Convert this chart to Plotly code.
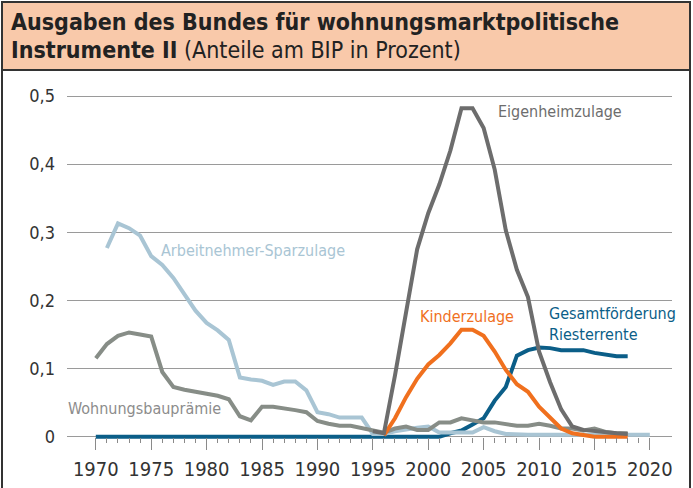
import plotly.graph_objects as go

# ---------------- data ----------------
years_arb = list(range(1971, 2021))
arbeitnehmer = [0.277, 0.313, 0.306, 0.295, 0.265, 0.252, 0.233, 0.208, 0.185, 0.167,
                0.156, 0.142, 0.087, 0.084, 0.082, 0.076, 0.081, 0.081, 0.068, 0.036,
                0.033, 0.028, 0.028, 0.028, 0.004, 0.004, 0.008, 0.011, 0.013, 0.015,
                0.006, 0.006, 0.006, 0.006, 0.014, 0.008, 0.004, 0.003, 0.003, 0.003,
                0.003, 0.003, 0.003, 0.003, 0.003, 0.003, 0.003, 0.003, 0.003, 0.003]

years_wbp = list(range(1970, 2019))
wohnungsbau = [0.115, 0.136, 0.148, 0.153, 0.150, 0.147, 0.095, 0.073, 0.069, 0.066,
               0.063, 0.060, 0.055, 0.030, 0.024, 0.044, 0.044, 0.042, 0.039, 0.036,
               0.023, 0.019, 0.016, 0.016, 0.013, 0.010, 0.006, 0.012, 0.015, 0.010,
               0.010, 0.021, 0.021, 0.027, 0.024, 0.021, 0.021, 0.019, 0.016, 0.016,
               0.019, 0.016, 0.012, 0.012, 0.009, 0.012, 0.007, 0.005, 0.005]

years_eig = list(range(1995, 2019))
eigenheim = [0.008, 0.005, 0.090, 0.180, 0.275, 0.328, 0.370, 0.420, 0.482, 0.482,
             0.453, 0.392, 0.303, 0.245, 0.205, 0.125, 0.080, 0.040, 0.015, 0.010,
             0.008, 0.006, 0.005, 0.004]

years_kind = list(range(1996, 2019))
kinder = [0.002, 0.027, 0.058, 0.085, 0.106, 0.120, 0.137, 0.157, 0.157, 0.148,
          0.125, 0.098, 0.077, 0.066, 0.044, 0.027, 0.012, 0.005, 0.002, 0.0,
          0.0, 0.0, 0.0]

years_ries = list(range(1970, 2019))
riester = [0.0] * 32 + [0.005, 0.009, 0.018, 0.027, 0.053, 0.073, 0.119, 0.127,
                        0.131, 0.130, 0.127, 0.127, 0.127, 0.123, 0.120, 0.118, 0.118]

x_ticks = list(range(1970, 2021, 5))
x_minor = list(range(1970, 2021))
y_ticks = [0, 0.1, 0.2, 0.3, 0.4, 0.5]
y_labels = ["0", "0,1", "0,2", "0,3", "0,4", "0,5"]

# ---------------- styling ----------------
FONT = "Liberation Sans Narrow, DejaVu Sans Condensed, Arial Narrow, sans-serif"
C_ARB = "#a9c5d4"
C_WBP = "#878d87"
C_EIG = "#6d6d6d"
C_KIN = "#f0701e"
C_RIE = "#0b5e88"

W, H = 693, 488
L, R, T, B = 67, 21, 80, 43
PW, PH = W - L - R, H - T - B


def px(x):
    return (x - L) / PW


def py(y):
    return 1 - (y - T) / PH


fig = go.Figure()
lw = 4
fig.add_trace(go.Scatter(x=years_ries, y=riester, mode="lines",
                         line=dict(color=C_RIE, width=lw)))
fig.add_trace(go.Scatter(x=years_arb, y=arbeitnehmer, mode="lines",
                         line=dict(color=C_ARB, width=lw)))
fig.add_trace(go.Scatter(x=years_wbp, y=wohnungsbau, mode="lines",
                         line=dict(color=C_WBP, width=lw)))
fig.add_trace(go.Scatter(x=years_kind, y=kinder, mode="lines",
                         line=dict(color=C_KIN, width=lw)))
fig.add_trace(go.Scatter(x=years_eig, y=eigenheim, mode="lines",
                         line=dict(color=C_EIG, width=lw)))

ann_font = dict(family=FONT, size=16)
annotations = [
    dict(x=1975.8, y=0.273, text="Arbeitnehmer-Sparzulage", font=dict(ann_font, color=C_ARB)),
    dict(x=1967.4, y=0.042, text="Wohnungsbauprämie", font=dict(ann_font, color="#8c8c8c")),
    dict(x=2006.2, y=0.477, text="Eigenheimzulage", font=dict(ann_font, color=C_EIG)),
    dict(x=1999.2, y=0.176, text="Kinderzulage", font=dict(ann_font, color=C_KIN)),
    dict(x=2010.8, y=0.166, text="Gesamtförderung<br>Riesterrente",
         font=dict(ann_font, color=C_RIE)),
]
for a in annotations:
    a.update(xref="x", yref="y", showarrow=False, xanchor="left", yanchor="middle",
             align="left", borderpad=0)

# title
annotations.append(dict(
    xref="paper", yref="paper", x=px(10), y=py(22), xanchor="left", yanchor="middle",
    showarrow=False, align="left", borderpad=0,
    text="<b>Ausgaben des Bundes für wohnungsmarktpolitische</b>",
    font=dict(family=FONT, size=23, color="#222222")))
annotations.append(dict(
    xref="paper", yref="paper", x=px(10), y=py(50), xanchor="left", yanchor="middle",
    showarrow=False, align="left", borderpad=0,
    text="<b>Instrumente II</b> (Anteile am BIP in Prozent)",
    font=dict(family=FONT, size=23, color="#222222")))

shapes = [
    dict(type="rect", xref="paper", yref="paper", x0=px(2), x1=px(690), y0=py(2), y1=py(560),
         line=dict(color="#333333", width=2), fillcolor="rgba(0,0,0,0)", layer="below"),
    dict(type="rect", xref="paper", yref="paper", x0=px(2), x1=px(690), y0=py(2), y1=py(70),
         line=dict(color="#333333", width=2), fillcolor="#f9c9aa", layer="below"),
]

y0_px = 436.7
fig.update_layout(
    template="none",
    width=W, height=H,
    margin=dict(l=L, r=R, t=T, b=B, pad=0, autoexpand=False),
    paper_bgcolor="white", plot_bgcolor="white",
    showlegend=False,
    hovermode=False,
    font=dict(family=FONT, size=18, color="#333333"),
    annotations=annotations,
    shapes=shapes,
    xaxis=dict(
        automargin=False,
        range=[1967.4, 2022.0], anchor="free", position=(H - B - y0_px) / PH,
        tickmode="array", tickvals=x_ticks, ticktext=[str(v) for v in x_ticks],
        ticks="outside", ticklen=12, tickwidth=1, tickcolor="#8a8a8a",
        minor=dict(tickmode="array", tickvals=x_minor, ticks="outside", ticklen=5,
                   tickwidth=1, tickcolor="#8a8a8a", showgrid=False),
        showgrid=False, zeroline=False, showline=False,
        tickfont=dict(family=FONT, size=20, color="#333333"),
        ticklabelstandoff=2,
    ),
    yaxis=dict(
        automargin=False,
        range=[-(445 - y0_px) / 681.0, 0.5 + (96 - 80) / 681.0],
        tickmode="array", tickvals=y_ticks, ticktext=y_labels,
        showgrid=True, gridcolor="#9a9a9a", gridwidth=1,
        zeroline=False, showline=False, ticks="",
        tickfont=dict(family=FONT, size=18, color="#333333"),
        ticklabelstandoff=11,
    ),
)

fig.write_html(
    "out.html",
    config={"displayModeBar": False, "staticPlot": True},
    post_script="document.body.style.margin='0px';document.body.style.overflow='hidden';",
)
